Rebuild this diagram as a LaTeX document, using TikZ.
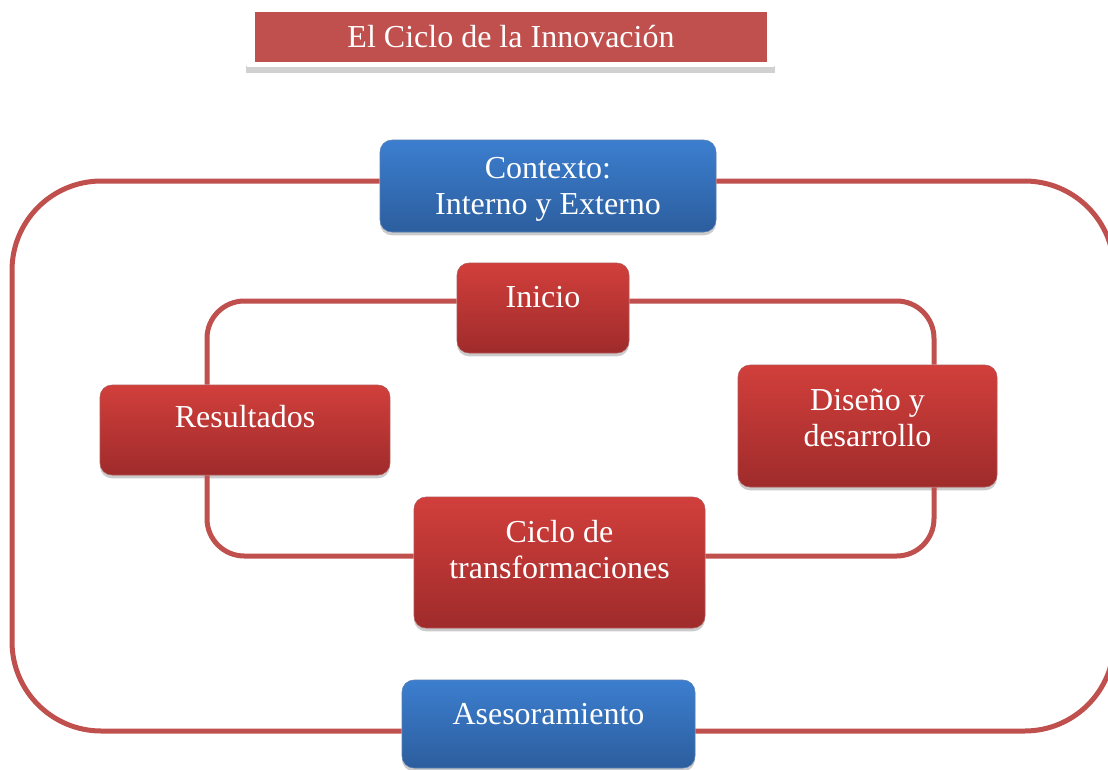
\documentclass[tikz,border=0pt]{standalone}
\usepackage{fontspec}
\setmainfont{Liberation Serif}
\usepackage{xcolor}
\usetikzlibrary{shadows}
\definecolor{ringred}{HTML}{C0504D}
\definecolor{redtop}{HTML}{D13F3B}
\definecolor{redbot}{HTML}{9F2B2B}
\definecolor{bluetop}{HTML}{3C7ECF}
\definecolor{bluebot}{HTML}{2C5E9E}
\begin{document}
\begin{tikzpicture}[x=0.75pt,y=-0.75pt,
        font=\fontsize{24}{27}\selectfont,
        ring/.style={draw=ringred,line width=3.75pt},
        box/.style={rounded corners=9pt,text=white,align=center,inner sep=0pt,
            drop shadow={shadow xshift=0pt,shadow yshift=-2.5pt,fill=black!40}},
        redbox/.style={box,top color=redtop,bottom color=redbot,draw=redbot!80},
        bluebox/.style={box,top color=bluetop,bottom color=bluebot,draw=bluebot!80}]
        \useasboundingbox (0,0) rectangle (1108,769);
        \fill[white] (0,0) rectangle (1108,769);
        % title
        \fill[black!18] (246,66) rectangle (775,73);
        \fill[white] (247,8) rectangle (774,67);
        \node[fill=ringred,text=white,minimum width=384pt,minimum height=37.5pt,inner sep=0pt] (ttl) at (511,37) {El Ciclo de la Innovaci\'on};
        % corners of the two loops
        \coordinate (outL) at (12,181);
        \coordinate (outR) at (1114,731);
        \coordinate (inL) at (207,301);
        \coordinate (inR) at (934,556);
        % boxes
        \node[bluebox,minimum width=252pt,minimum height=69pt,text depth=0pt] (ctx) at (548,186) {Contexto:\\Interno y Externo};
        \node[redbox,minimum width=129pt,minimum height=67.5pt,text depth=16pt] (ini) at (543,308) {Inicio};
        \node[redbox,minimum width=217.5pt,minimum height=67.5pt,text depth=20pt] (res) at (245,430) {Resultados};
        \node[redbox,minimum width=194.25pt,minimum height=91.5pt,text depth=12pt] (dis) at (867.5,426) {Dise\~no y\\desarrollo};
        \node[redbox,minimum width=218.25pt,minimum height=98.25pt,text depth=20pt] (cic) at (559.5,562.5) {Ciclo de\\transformaciones};
        \node[bluebox,minimum width=219.75pt,minimum height=66pt,text depth=15pt] (ase) at (548.5,724) {Asesoramiento};
        % outer loop
        \path[ring,rounded corners=67pt] (ctx.west |- outL) -- (outL) -- (outL |- outR) -- (ase.west |- outR);
        \path[ring,rounded corners=67pt] (ctx.east |- outL) -- (outR |- outL) -- (outR) -- (ase.east |- outR);
        % inner loop
        \path[ring,rounded corners=28pt] (ini.west |- inL) -| (res.north -| inL);
        \path[ring,rounded corners=28pt] (ini.east |- inL) -| (dis.north -| inR);
        \path[ring,rounded corners=28pt] (dis.south -| inR) |- (cic.east |- inR);
        \path[ring,rounded corners=28pt] (cic.west |- inR) -| (res.south -| inL);
    \end{tikzpicture}
\end{document}
